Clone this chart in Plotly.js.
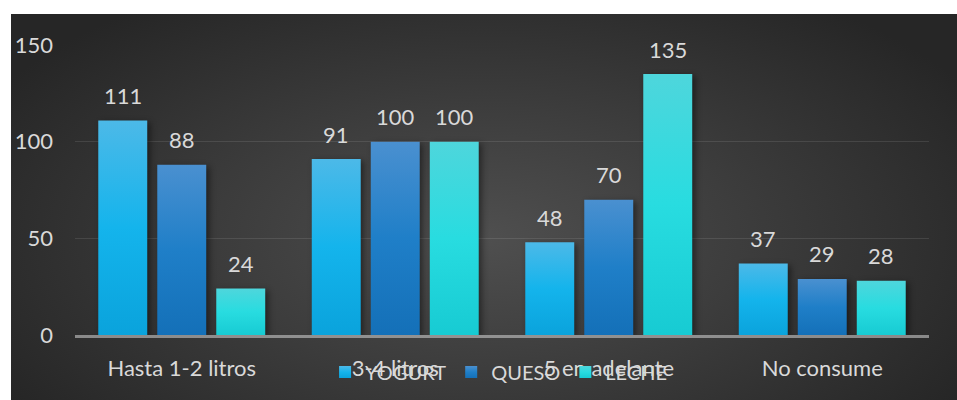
<!DOCTYPE html>
<html>
<head>
<meta charset="utf-8">
<script src="https://cdn.plot.ly/plotly-3.0.1.min.js"></script>
<style>
  html, body { margin: 0; padding: 0; background: #ffffff; width: 957px; height: 400px; overflow: hidden; }
  #chart {
    position: absolute; left: 11px; top: 14px; width: 946px; height: 386px;
    background: radial-gradient(ellipse 60% 75% at 50% 58%, #4f4f4f 0%, #3d3d3d 45%, #262626 100%);
  }
  #chart .bars .point path { filter: drop-shadow(3px 2px 3px rgba(0,0,0,0.45)); }
</style>
</head>
<body>
<div id="chart"></div>
<script>
const categories = ["Hasta 1-2 litros", "3-4 litros", "5 en adelante", "No consume"];
const seriesNames = ["YOGURT", "QUESO", "LECHE"];
const yogurt = [111, 91, 48, 37];
const queso = [88, 100, 70, 29];
const leche = [24, 100, 135, 28];
const yTicks = [0, 50, 100, 150];

const allSeries = [yogurt, queso, leche];
const colors = ["#14b2ea", "#1f7fc8", "#27d8de"];
const gradStops = [
  ["#4cb9e8", "#14b4ec", "#0aa3dc"],
  ["#4a90d0", "#1f7fc8", "#1470b8"],
  ["#4ed6dc", "#28dce0", "#17cbd3"]
];
const font = "Lato, 'Open Sans', sans-serif";
const txtColor = "#d9d9d9";
const fs = 22;

const traces = allSeries.map((vals, i) => ({
  type: "bar",
  name: seriesNames[i],
  x: categories,
  y: vals,
  marker: { color: colors[i], line: { width: 0 } },
  hoverinfo: "skip"
}));

const slotPx = 59;
const annotations = [];
allSeries.forEach((vals, i) => {
  vals.forEach((v, j) => {
    annotations.push({
      x: categories[j], y: v, xref: "x", yref: "y",
      text: String(v), showarrow: false,
      xshift: (i - 1) * slotPx, yshift: 25, yanchor: "middle",
      font: { family: font, size: fs, color: txtColor }
    });
  });
});

const layout = {
  width: 946, height: 386,
  margin: { l: 64, r: 28, t: 31, b: 65, autoexpand: false },
  paper_bgcolor: "rgba(0,0,0,0)",
  plot_bgcolor: "rgba(0,0,0,0)",
  barmode: "group",
  bargap: 0.171,
  bargroupgap: 0.17,
  showlegend: true,
  legend: {
    orientation: "h", x: 0.496, xanchor: "center", y: -0.128, yanchor: "middle",
    font: { family: font, size: 20, color: txtColor },
    bgcolor: "rgba(0,0,0,0)", itemclick: false
  },
  xaxis: {
    type: "category", automargin: false,
    showgrid: false, zeroline: false,
    showline: true, linecolor: "rgba(200,200,200,0.6)", linewidth: 2.5,
    ticks: "", ticklabelstandoff: 12,
    tickfont: { family: font, size: fs, color: txtColor }
  },
  yaxis: {
    range: [0, 150], automargin: false,
    tickvals: yTicks,
    showgrid: true, gridcolor: "rgba(255,255,255,0.1)", gridwidth: 1.5,
    zeroline: false, showline: false,
    ticks: "", ticklabelstandoff: 21,
    tickfont: { family: font, size: fs, color: txtColor }
  },
  annotations: annotations,
  font: { family: font, color: txtColor }
};

Plotly.newPlot("chart", traces, layout, { displayModeBar: false, staticPlot: true }).then(gd => {
  const svg = gd.querySelector("svg.main-svg");
  const ns = "http://www.w3.org/2000/svg";
  let defs = svg.querySelector("defs");
  if (!defs) { defs = document.createElementNS(ns, "defs"); svg.insertBefore(defs, svg.firstChild); }
  gradStops.forEach((stops, i) => {
    const g = document.createElementNS(ns, "linearGradient");
    g.setAttribute("id", "barGrad" + i);
    g.setAttribute("x1", "0"); g.setAttribute("y1", "0");
    g.setAttribute("x2", "0"); g.setAttribute("y2", "1");
    [0, 0.5, 1].forEach((off, k) => {
      const s = document.createElementNS(ns, "stop");
      s.setAttribute("offset", off);
      s.setAttribute("stop-color", stops[k]);
      g.appendChild(s);
    });
    defs.appendChild(g);
  });
  gd.querySelectorAll(".barlayer .trace").forEach((tr, i) => {
    tr.querySelectorAll(".point path").forEach(p => { p.style.fill = "url(#barGrad" + i + ")"; });
  });
  gd.querySelectorAll(".legend .traces").forEach((tr, i) => {
    tr.querySelectorAll(".legendpoints path").forEach(p => { p.style.fill = "url(#barGrad" + i + ")"; });
  });
});
</script>
</body>
</html>
